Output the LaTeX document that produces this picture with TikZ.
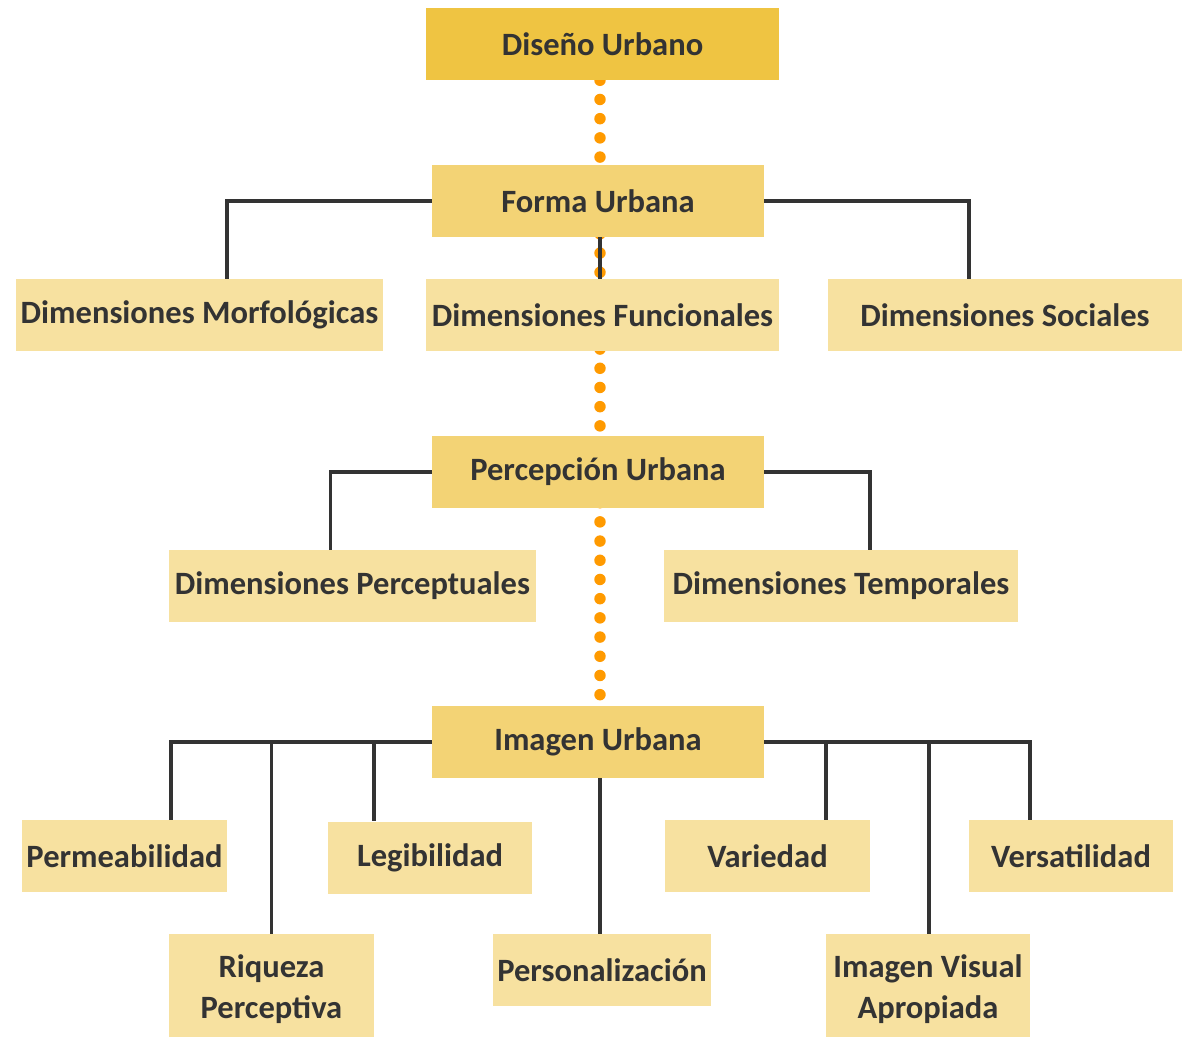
\documentclass[tikz,border=0pt]{standalone}
\usepackage{fontspec}
\setmainfont{Carlito}
\usetikzlibrary{positioning, calc, backgrounds}

\definecolor{goldtop}{HTML}{EFC442}
\definecolor{goldmid}{HTML}{F3D375}
\definecolor{goldlow}{HTML}{F7E1A0}
\definecolor{dotorange}{HTML}{FF9A00}
\definecolor{inkgray}{HTML}{333333}

\begin{document}
\begin{tikzpicture}[
    x=0.75pt, y=-0.75pt,
    font=\fontsize{24.4pt}{31pt}\selectfont\bfseries,
    box/.style={inner sep=0pt, align=center, text=inkgray, minimum height=54pt},
    head/.style={box, fill=goldmid, minimum width=249pt},
    leaf/.style={box, fill=goldlow},
    link/.style={draw=inkgray, line width=2.3pt},
    spine/.style={draw=dotorange, line width=8.6pt, line cap=round, dash pattern=on 0pt off 14.4pt}
]
    \useasboundingbox (0,0) rectangle (1186,1036);

    \node (diseno) [box, fill=goldtop, minimum width=265pt] at (602.5,44) {Diseño Urbano};

    % Forma Urbana and its dimensions
    \node (forma) [head] at (598,201) {Forma Urbana};
    \node (morf) [leaf, minimum width=275pt] at (199.5,315) {Dimensiones Morfológicas};
    \node (func) [leaf, minimum width=265pt] at (602.5,315) {Dimensiones Funcionales};
    \node (soc) [leaf, minimum width=265pt] at (1005,315) {Dimensiones Sociales};

    % Percepcion Urbana
    \node (percep) [head] at (598,472) {Percepción Urbana};
    \node (perc) [leaf, minimum width=275pt] at (352.5,586) {Dimensiones Perceptuales};
    \node (temp) [leaf, minimum width=265pt] at (841,586) {Dimensiones Temporales};

    % Imagen Urbana and its qualities
    \node (imagen) [head] at (598,742) {Imagen Urbana};
    \node (perm) [leaf, minimum width=154pt] at (124.5,856) {Permeabilidad};
    \node (legi) [leaf, minimum width=153pt] at (430,857.5) {Legibilidad};
    \node (vari) [leaf, minimum width=154pt] at (767.5,856) {Variedad};
    \node (vers) [leaf, minimum width=153pt] at (1071,856) {Versatilidad};
    \node (riq) [leaf, minimum width=154pt, minimum height=82pt] at (271.5,989) {Riqueza\\Perceptiva};
    \node (pers) [leaf, minimum width=164pt] at (602,970) {Personalización};
    \node (ivis) [leaf, minimum width=153pt, minimum height=82pt] at (928,989) {Imagen Visual\\Apropiada};

    \begin{scope}[on background layer]
        \draw[spine] ($(diseno.south)+(-2.5,0)$) -- ($(imagen.north)+(2,0)$);
    \end{scope}

    \draw[link] (forma.west) -| ($(morf.north)+(27.5,0)$);
    \draw[link] (forma.east) -| ($(soc.north)+(-36,0)$);
    \draw[link] ($(forma.south)+(2,0)$) -- ($(forma.south |- func.north)+(2,0)$);

    \draw[link] (percep.west) -| ($(perc.north)+(-22,0)$);
    \draw[link] (percep.east) -| ($(temp.north)+(29,0)$);

    \draw[link] (imagen.west) -| ($(perm.north)+(46.5,0)$);
    \draw[link] (imagen.west -| riq.north) -- (riq.north);
    \draw[link] ($(imagen.west -| legi.north)+(-56,0)$) -- ($(legi.north)+(-56,0)$);
    \draw[link] (imagen.east) -| ($(vers.north)+(-41,0)$);
    \draw[link] ($(imagen.east -| vari.north)+(58.5,0)$) -- ($(vari.north)+(58.5,0)$);
    \draw[link] ($(imagen.east -| ivis.north)+(1,0)$) -- ($(ivis.north)+(1,0)$);
    \draw[link] ($(imagen.south)+(2,0)$) -- ($(imagen.south |- pers.north)+(2,0)$);
\end{tikzpicture}
\end{document}
